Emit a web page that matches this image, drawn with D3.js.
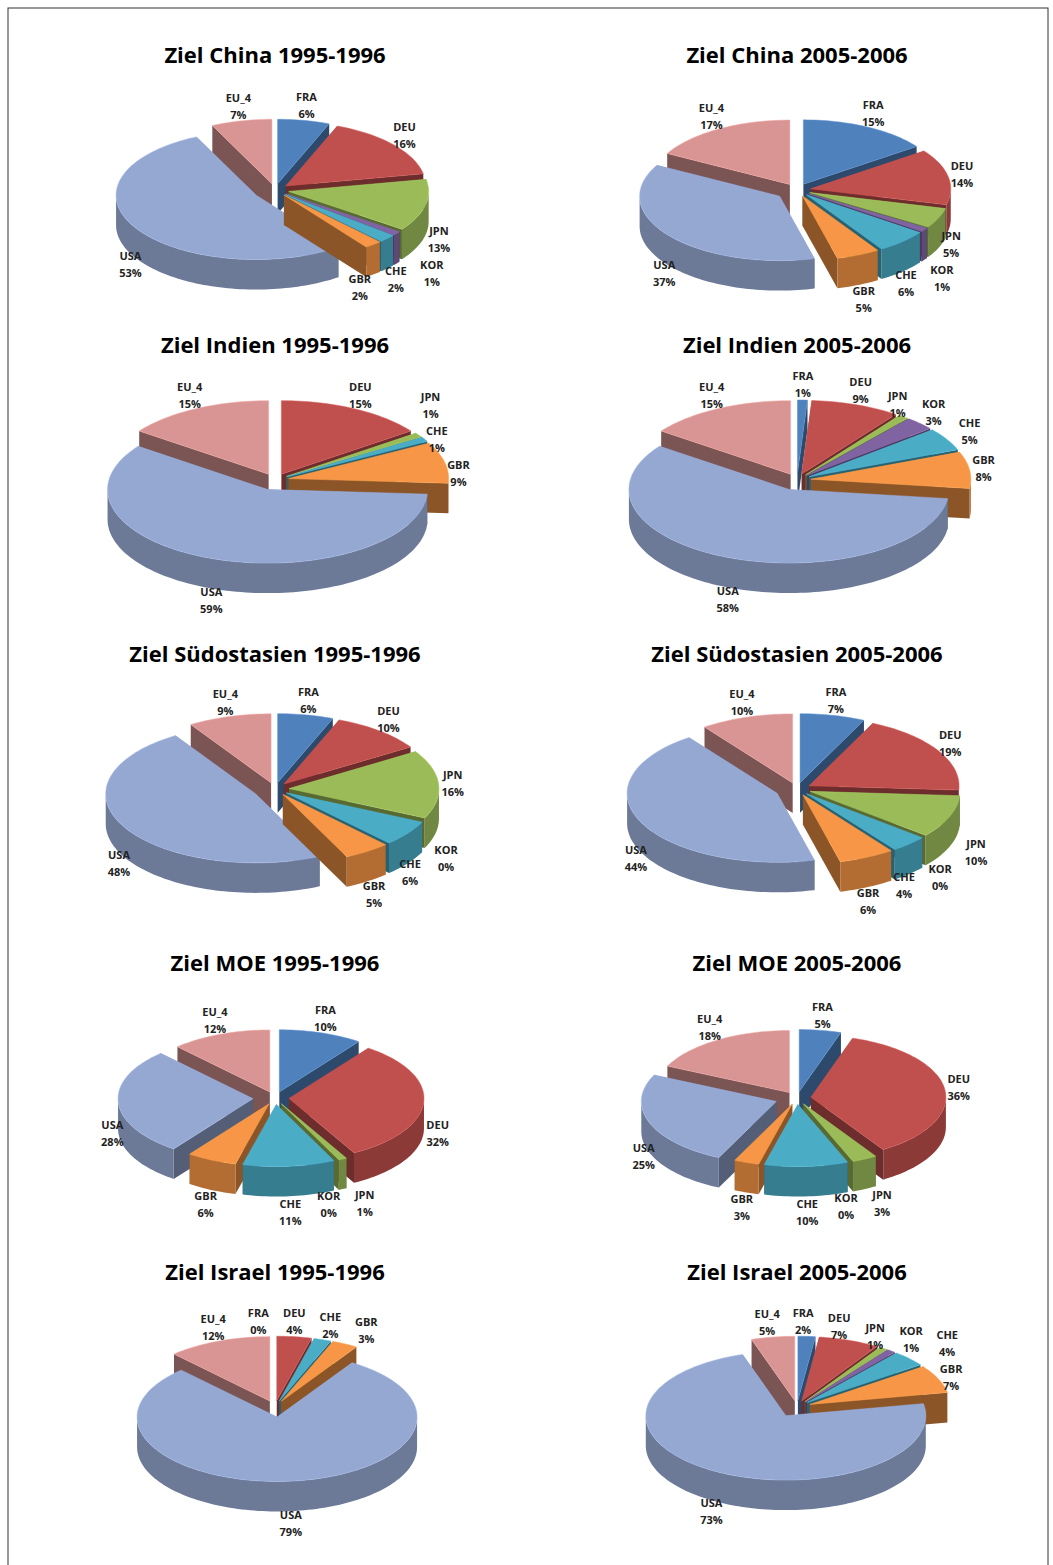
<!DOCTYPE html>
<html><head><meta charset="utf-8">
<script src="https://cdn.jsdelivr.net/npm/d3@7.9.0/dist/d3.min.js"></script>
<style>
body{margin:0;background:#fff;}
svg{font-family:"Open Sans","DejaVu Sans",sans-serif;}
.title{font-weight:700;font-size:22px;}
.lbl{font-weight:700;font-size:11px;fill:#222;}
</style></head>
<body>
<svg id="chart" width="1053" height="1565"></svg>
<script>
// categories in clockwise order, starting at 12 o'clock
const categories = ["FRA","DEU","JPN","KOR","CHE","GBR","USA","EU_4"];
const colors = ["#4f81bd","#c0504d","#9bbb59","#8064a2","#4bacc6","#f79646","#95a8d2","#d99594"];

const titles = [
  "Ziel China 1995-1996","Ziel China 2005-2006",
  "Ziel Indien  1995-1996","Ziel Indien 2005-2006",
  "Ziel Südostasien  1995-1996","Ziel Südostasien 2005-2006",
  "Ziel MOE  1995-1996","Ziel MOE 2005-2006",
  "Ziel Israel  1995-1996","Ziel Israel 2005-2006"
];
// shares in %, null = not labelled
const china95 = [6,16,13,1,2,2,53,7];
const china05 = [15,14,5,1,6,5,37,17];
const indien95 = [null,15,1,null,1,9,59,15];
const indien05 = [1,9,1,3,5,8,58,15];
const soa95 = [6,10,16,0,6,5,48,9];
const soa05 = [7,19,10,0,4,6,44,10];
const moe95 = [10,32,1,0,11,6,28,12];
const moe05 = [5,36,3,0,10,3,25,18];
const israel95 = [0,4,null,null,2,3,79,12];
const israel05 = [2,7,1,1,4,7,73,5];
const series = [china95,china05,indien95,indien05,soa95,soa05,moe95,moe05,israel95,israel05];

const svg = d3.select("#chart");
svg.append("rect").attr("x",8).attr("y",8).attr("width",1040).attr("height",1560)
  .attr("fill","none").attr("stroke","#333").attr("stroke-width",1);

const titleY = [55,345,654,963,1272];
const radius = [140,160,150,135,140];
const colX = [275,797];
const K = 0.46, DEPTH = 30;

const pie = d3.pie().sort(null).value(d => d.v || 0);

series.forEach((vals, i) => {
  const row = Math.floor(i/2), col = i%2;
  const cx = colX[col], cy = titleY[row] + 135, r = radius[row];
  const g = svg.append("g");
  svg.append("text").attr("class","title").attr("x",cx).attr("y",titleY[row]+8)
    .attr("text-anchor","middle").text(titles[i]);

  const data = categories.map((c, j) => ({c, v: vals[j], col: colors[j]}));
  const arcs = pie(data);
  const P = (a, rr, ox, oy, dz) => [cx + ox + rr*Math.sin(a), cy + oy - rr*K*Math.cos(a) + (dz||0)];

  const slices = arcs.map(a => {
    const mid = (a.startAngle + a.endAngle)/2;
    const e = a.data.c === "USA" ? 22 : 14;
    const ox = e*Math.sin(mid), oy = -e*K*Math.cos(mid);
    return {a, mid, ox, oy, depth: -Math.cos(mid)};
  });
  slices.filter(s => s.a.data.v > 0).sort((p,q) => p.depth - q.depth).forEach(s => {
    const {a, ox, oy} = s, col = d3.color(a.data.col);
    const arcPts = (a0, a1, dz, rev) => {
      const n = Math.max(2, Math.ceil((a1-a0)/0.03));
      const pts = d3.range(n+1).map(k => P(a0 + (a1-a0)*k/n, r, ox, oy, dz));
      return rev ? pts.reverse() : pts;
    };
    const c0 = [cx+ox, cy+oy], c1 = [cx+ox, cy+oy+DEPTH];
    [a.startAngle, a.endAngle].forEach(ang => {
      const p = P(ang, r, ox, oy), q = P(ang, r, ox, oy, DEPTH);
      g.append("path").attr("d", d3.line()([c0, p, q, c1]) + "Z")
        .attr("fill", col.darker(1.6));
    });
    const f0 = Math.max(a.startAngle, Math.PI/2), f1 = Math.min(a.endAngle, 3*Math.PI/2);
    if (f1 > f0) {
      const pts = arcPts(f0, f1, 0).concat(arcPts(f0, f1, DEPTH, true));
      g.append("path").attr("d", d3.line()(pts) + "Z").attr("fill", col.darker(0.9));
    }
    const top = [c0].concat(arcPts(a.startAngle, a.endAngle, 0));
    g.append("path").attr("d", d3.line()(top) + "Z").attr("fill", col)
      .attr("stroke", col.brighter(0.3)).attr("stroke-width", 0.5);
  });

  // labels with simple collision relaxation
  const labels = slices.filter(s => s.a.data.v !== null).map(s => {
    const m = s.mid;
    let ly = cy - (r*K + 22)*Math.cos(m);
    if (Math.cos(m) < 0) ly += DEPTH;
    return {s, x: cx + (r + 28)*Math.sin(m), y: ly};
  });
  const W = 36, H = 34;
  for (let it = 0; it < 200; it++) {
    for (let p = 0; p < labels.length; p++) for (let q = p+1; q < labels.length; q++) {
      const A = labels[p], B = labels[q];
      const dx = B.x - A.x, dy = B.y - A.y;
      const ox = W - Math.abs(dx), oy = H - Math.abs(dy);
      if (ox > 0 && oy > 0) {
        // push outward: move along the axis with least overlap
        if (ox < oy) { const s = (dx >= 0 ? 1 : -1)*ox/2*0.5; A.x -= s; B.x += s; }
        else { const s = (dy >= 0 ? 1 : -1)*oy/2*0.5; A.y -= s; B.y += s; }
      }
    }
  }
  labels.forEach(L => {
    const t = g.append("text").attr("class","lbl").attr("text-anchor","middle")
      .attr("x", L.x).attr("y", L.y - 4);
    t.append("tspan").attr("x", L.x).text(L.s.a.data.c);
    t.append("tspan").attr("x", L.x).attr("dy", 17).text(L.s.a.data.v + "%");
  });
});
</script>
</body></html>
